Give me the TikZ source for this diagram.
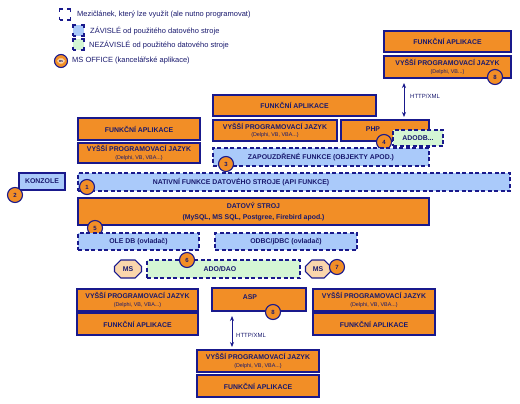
\documentclass[tikz,border=0pt]{standalone}
\usepackage{fontspec}
\setmainfont{Liberation Sans}
\usetikzlibrary{shapes.misc,arrows.meta}
\definecolor{nv}{RGB}{25,25,140}
\definecolor{tx}{RGB}{25,25,110}
\definecolor{orf}{RGB}{242,142,38}
\definecolor{blf}{RGB}{170,202,250}
\definecolor{grf}{RGB}{212,246,212}
\definecolor{pef}{RGB}{250,214,172}
\newcommand\subf{\fontsize{5.4}{6}\selectfont\mdseries}
\newcommand\vpj[1]{VYŠŠÍ PROGRAMOVACÍ JAZYK\\[-0.5pt]{\subf #1}}
\begin{document}
\begin{tikzpicture}[x=1pt,y=-1pt,
  base/.style={inner sep=0pt, outer sep=0pt, text=tx, align=center,
    font=\fontsize{6.9}{8}\selectfont\bfseries},
  obox/.style={base, draw=nv, fill=orf, line width=1.3pt},
  dbox/.style={base, draw=nv, line width=1.3pt, dash pattern=on 4pt off 2.5pt},
  bbox/.style={dbox, fill=blf},
  gbox/.style={dbox, fill=grf},
  badge/.style={circle, draw=nv, fill=orf, line width=1.1pt, minimum size=15pt,
    inner sep=0pt, text=tx, font=\fontsize{6}{7}\selectfont\bfseries},
  msoct/.style={base, chamfered rectangle, chamfered rectangle xsep=4pt,
    chamfered rectangle ysep=4pt, draw=nv, fill=pef, line width=1.1pt},
  lgicon/.style={draw=nv, line width=1.3pt, minimum width=11pt, minimum height=11pt,
    inner sep=0pt, dash pattern=on 6.5pt off 4.5pt, dash phase=3.25pt},
  lgtext/.style={anchor=west, inner sep=0pt, text=tx, font=\fontsize{7.5}{8}\selectfont},
  lbl/.style={anchor=west, inner sep=0pt, text=tx, font=\fontsize{6}{7}\selectfont},
  conn/.style={{Stealth[length=5pt,width=4pt]}-{Stealth[length=5pt,width=4pt]}, draw=nv, line width=1pt}
]
\useasboundingbox (0,0) rectangle (520,404);
\fill[white] (0,0) rectangle (520,404);

% legend
\node[lgicon] (lg1) at (65,14.5) {};
\node[lgtext] (lt1) at (77,15) {Mezičlánek, který lze využít (ale nutno programovat)};
\node[lgicon, fill=blf] (lg2) at (78.5,30.5) {};
\node[lgtext] (lt2) at (90,31) {ZÁVISLÉ od použitého datového stroje};
\node[lgicon, fill=grf] (lg3) at (78.5,44.5) {};
\node[lgtext] (lt3) at (89,45) {NEZÁVISLÉ od použitého datového stroje};
\node[circle, draw=nv, fill=orf, line width=1.1pt, minimum size=13pt, inner sep=0pt] (lg4) at (61,61) {};
\node[base, chamfered rectangle, chamfered rectangle xsep=1.5pt, chamfered rectangle ysep=1.5pt,
  fill=pef, minimum width=8pt, minimum height=5pt, font=\fontsize{3}{3}\selectfont\bfseries] (lg4i) at (61,61) {MS};
\node[lgtext] (lt4) at (72,61) {MS OFFICE (kancelářské aplikace)};

% top right
\node[obox, minimum width=127pt, minimum height=21pt] (tfa) at (447.5,41.5) {FUNKČNÍ APLIKACE};
\node[obox, minimum width=127pt, minimum height=22pt] (tvpj) at (447.5,67) {\vpj{(Delphi, VB...)}};
\node[badge] (b8a) at (495,77) {8};

% middle top
\node[obox, minimum width=163pt, minimum height=21pt] (mfa) at (294.5,105.5) {FUNKČNÍ APLIKACE};
\node[obox, minimum width=124pt, minimum height=21pt] (mvpj) at (275,130.5) {\vpj{(Delphi, VB, VBA...)}};
\node[obox, minimum width=88pt, minimum height=21pt] (php) at (385,130.5) {};
\node[base] (phpt) at (373,129) {PHP};
\node[gbox, minimum width=50pt, minimum height=16pt] (adodb) at (418,138) {ADODB...};
\node[badge] (b4) at (384,142) {4};
\node[bbox, minimum width=216pt, minimum height=18pt] (zap) at (321,157) {ZAPOUZDŘENÉ FUNKCE (OBJEKTY APOD.)};
\node[badge] (b3) at (226,164) {3};

% left
\node[obox, minimum width=122pt, minimum height=22pt] (lfa) at (139,129) {FUNKČNÍ APLIKACE};
\node[obox, minimum width=122pt, minimum height=20pt] (lvpj) at (139,153) {\vpj{(Delphi, VB, VBA...)}};
\node[base, draw=nv, fill=blf, line width=1.3pt, minimum width=46pt, minimum height=17pt] (konz) at (42,181.5) {KONZOLE};
\node[badge] (b2) at (15,195) {2};
\node[bbox, minimum width=432pt, minimum height=18pt] (nat) at (294,182) {};
\node[base] (natt) at (241,182) {NATIVNÍ FUNKCE DATOVÉHO STROJE (API FUNKCE)};
\node[badge] (b1) at (87,187) {1};

% data engine
\node[obox, minimum width=351pt, minimum height=27pt] (ds) at (253.5,211.5) {DATOVÝ STROJ\\[3pt](MySQL, MS SQL, Postgree, Firebird apod.)};
\node[badge] (b5) at (95,228) {5};
\node[bbox, minimum width=121pt, minimum height=17pt] (ole) at (138.5,241.5) {OLE DB (ovladač)};
\node[bbox, minimum width=142pt, minimum height=17pt] (odbc) at (286,241.5) {ODBC/jDBC (ovladač)};

\node[msoct, minimum width=27pt, minimum height=18pt] (ms1) at (128,269) {MS};
\node[gbox, minimum width=153pt, minimum height=18pt] (ado) at (223.5,269) {};
\node[base] (adot) at (220,269) {ADO/DAO};
\node[badge] (b6) at (187,260) {6};
\node[msoct, minimum width=25pt, minimum height=18pt] (ms2) at (318,269) {MS};
\node[badge] (b7) at (337,267) {7};

% bottom
\node[obox, minimum width=121pt, minimum height=22pt] (bvpjL) at (137.5,300) {\vpj{(Delphi, VB, VBA...)}};
\node[obox, minimum width=121pt, minimum height=22pt] (bfaL) at (137.5,324) {FUNKČNÍ APLIKACE};
\node[obox, minimum width=94pt, minimum height=23pt] (asp) at (259,299.5) {};
\node[base] (aspt) at (250,297) {ASP};
\node[badge] (b8b) at (273,312) {8};
\node[obox, minimum width=122pt, minimum height=22pt] (bvpjR) at (374,300) {\vpj{(Delphi, VB, VBA...)}};
\node[obox, minimum width=122pt, minimum height=22pt] (bfaR) at (374,324) {FUNKČNÍ APLIKACE};
\node[obox, minimum width=122pt, minimum height=22pt] (lvpjB) at (258,361) {\vpj{(Delphi, VB, VBA...)}};
\node[obox, minimum width=122pt, minimum height=22pt] (lfaB) at (258,386) {FUNKČNÍ APLIKACE};

% connectors
\coordinate (h1) at (404,0);
\draw[conn, shorten <=5pt, shorten >=3pt] (tvpj.south -| h1) -- (php.north -| h1);
\node[lbl] (l1) at (410,96) {HTTP/XML};
\coordinate (h2) at (232,0);
\draw[conn, shorten <=5pt, shorten >=3pt] (asp.south -| h2) -- (lvpjB.north -| h2);
\node[lbl] (l2) at (236,335) {HTTP/XML};
\end{tikzpicture}
\end{document}
